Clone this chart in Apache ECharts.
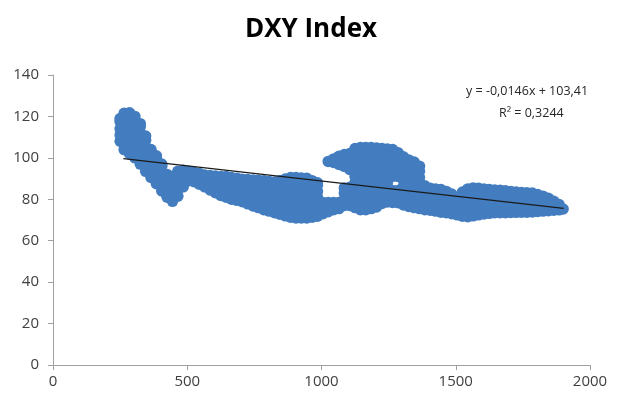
<!DOCTYPE html>
<html>
<head>
<meta charset="utf-8">
<script src="https://cdn.jsdelivr.net/npm/echarts@6/dist/echarts.min.js"></script>
<style>html,body{margin:0;padding:0;background:#fff}#c{width:622px;height:400px}</style>
</head>
<body>
<div id="c"></div>
<script>
// Values: [x, [y values at that x]]
const lobe = [
  [250,[108,111,114,117.5,119]],
  [265,[104,107,110,113,116,119,121.5]],
  [285,[102,105,108,111,114,117,120,121.8]],
  [305,[100,103,106,109,112,115,118,120]],
  [325,[97,100,103,106,109,112,115,116.5]],
  [345,[93.5,96.5,99.5,102.5,105.5,108.5,110.5]],
  [365,[90.5,93.5,96.5,99.5,102.5,104]],
  [385,[87.5,90.5,93.5,96.5,99.5,101]],
  [405,[84,87,90,93,96,97]],
  [425,[81,84,87,90,92]],
  [445,[79,82,85,88,91]]
];
const band = [
  [465,[81.5,84.5,87.5,90.5,93.5]],
  [485,[86,89,92,94]],
  [505,[89,92,93.5]],
  [525,[88.5,91.5,93]],
  [545,[87.3,90.3,92.5]],
  [565,[86,89,91.7]],
  [585,[84.5,87.5,90.5,91.5]],
  [605,[83.2,86.2,89.2,91.2]],
  [625,[81.8,84.8,87.8,91]],
  [645,[81,84,87,90,91]],
  [665,[80,83,86,89,90.5]],
  [685,[79.5,82.5,85.5,88.5,90.2]],
  [705,[78.8,81.8,84.8,87.8,89.7]],
  [725,[77.8,80.8,83.8,86.8,89.5]],
  [745,[76.8,79.8,82.8,85.8,89.3]],
  [765,[76,79,82,85,88,89.2]],
  [785,[75,78,81,84,87,89]],
  [805,[74.3,77.3,80.3,83.3,86.3,88.6]],
  [825,[73.5,76.5,79.5,82.5,85.5,88.3]],
  [845,[72.8,75.8,78.8,81.8,84.8,87.8,89]],
  [865,[72,75,78,81,84,87,89.8]],
  [885,[71.3,74.3,77.3,80.3,83.3,86.3,89.3,90.5]],
  [905,[71,74,77,80,83,86,89,90.5]],
  [925,[71,74,77,80,83,86,89,90.3]],
  [945,[71,74,77,80,83,86,89,90.2]],
  [965,[71.3,74.3,77.3,80.3,83.3,86.3,89]],
  [985,[71.8,74.8,77.8,80.8,83.8,86.8,88]]
];
const hump = [
  [1005,[73,76,78.5]],
  [1025,[74,77,78.5,98.3]],
  [1045,[75,78.5,97.8,99.5]],
  [1065,[75.5,78.5,96.8,99.8,100.8]],
  [1085,[77,80,83,85.5,95.9,98.9,101.6]],
  [1105,[77,80,83,85.8,94.4,97.4,100.4,102.1]],
  [1125,[76,79,82,85,88,91,94,97,100,103,104.5]],
  [1145,[75,78,81,84,87,90,93,96,99,102,105]],
  [1165,[75,78,81,84,87,90,93,96,99,102,105]],
  [1185,[75.5,78.5,81.5,84.5,87.5,90.5,93.5,96.5,99.5,102.5,105]],
  [1205,[76.3,79.3,82.3,85.3,88.3,91.3,94.3,97.3,100.3,103.3,104.7]],
  [1225,[78,81,84,87,90,93,96,99,102,104.5]],
  [1245,[78.7,81.7,84.7,87.7,90.7,93.7,96.7,99.7,102.7,104.3]],
  [1265,[78.5,81.5,84.3,91,93.5,96.5,99.5,102.5,104]],
  [1285,[78.3,81.3,84.3,91,93.3,96.3,99.3,102.5]],
  [1305,[77.3,80.3,83.3,86.3,89.3,92.3,95.3,98.3,100.5]],
  [1325,[76.5,79.5,82.5,85.5,88.5,91.5,94.5,97.5,99]],
  [1345,[76,79,82,85,88,91,94,97,98]],
  [1365,[75.5,78.5,81.5,84.5,87.5,90.5,93.5,96]]
];
const tail = [
  [1385,[75,78,81,84,86.5]],
  [1405,[74.7,77.7,80.7,83.7,85.3]],
  [1425,[74.3,77.3,80.3,83.3,85]],
  [1445,[73.8,76.8,79.8,82.8,84.7]],
  [1465,[73.5,76.5,79.5,82.5,83.8]],
  [1485,[73,76,79,82.5]],
  [1505,[72.5,75.5,78.5,79.5]],
  [1525,[71.8,74.8,77.8,80.8,83.5]],
  [1545,[71.6,74.6,77.6,80.6,83.6,85]],
  [1565,[72,75,78,81,84,85.5]],
  [1585,[72.5,75.5,78.5,81.5,84.5,85.3]],
  [1605,[72.9,75.9,78.9,81.9,85]],
  [1625,[73.2,76.2,79.2,82.2,84.7]],
  [1645,[73.5,76.5,79.5,82.5,84.5]],
  [1665,[73.5,76.5,79.5,82.5,84.4]],
  [1685,[73.5,76.5,79.5,82.5,84.1]],
  [1705,[73.6,76.6,79.6,82.6,83.8]],
  [1725,[73.7,76.7,79.7,82.7,83.5]],
  [1745,[73.8,76.8,79.8,83.3]],
  [1765,[73.8,76.8,79.8,83.1]],
  [1785,[73.9,76.9,79.9,83]],
  [1805,[74.1,77.1,80.1,82.3]],
  [1825,[74.3,77.3,80.3,81.5]],
  [1845,[74.5,77.5,80.5]],
  [1865,[74.7,77.7,79]],
  [1885,[74.9,77.5]],
  [1900,[75.3]]
];
const trendPoints = [[262, 99.6], [1902, 75.6]];
const trendLabel = 'y = -0,0146x + 103,41';
const r2Label = 'R² = 0,3244';
const xTicks = {min: 0, max: 2000, interval: 500};
const yTicks = {min: 0, max: 140, interval: 20};

const toPairs = cols => cols.flatMap(([x, ys]) => ys.map(y => [x, y]));
const points = [].concat(toPairs(lobe), toPairs(band), toPairs(hump), toPairs(tail));

const chart = echarts.init(document.getElementById('c'), null, {renderer: 'canvas'});
const axisLabel = {color: '#404040', fontSize: 15, fontFamily: 'Open Sans', formatter: v => String(v)};
chart.setOption({
  animation: false,
  title: {
    text: 'DXY Index', left: 'center', top: 12,
    textStyle: {fontSize: 26, fontWeight: 'bold', fontFamily: 'Open Sans', color: '#000'}
  },
  grid: {left: 53, right: 32, top: 75, bottom: 35},
  xAxis: {
    type: 'value', min: xTicks.min, max: xTicks.max, interval: xTicks.interval,
    axisLine: {show: true, lineStyle: {color: '#a0a0a0'}},
    axisTick: {show: true, length: 5, lineStyle: {color: '#a0a0a0'}},
    axisLabel: Object.assign({margin: 9}, axisLabel),
    splitLine: {show: false}
  },
  yAxis: {
    type: 'value', min: yTicks.min, max: yTicks.max, interval: yTicks.interval,
    axisLine: {show: true, lineStyle: {color: '#a0a0a0'}},
    axisTick: {show: true, length: 5, lineStyle: {color: '#a0a0a0'}},
    axisLabel: Object.assign({margin: 14}, axisLabel),
    splitLine: {show: false}
  },
  graphic: [
    {type: 'text', left: 466, top: 85, style: {text: trendLabel, fill: '#262626', font: '12.5px "Open Sans"'}},
    {type: 'text', left: 499, top: 107, style: {text: r2Label, fill: '#262626', font: '12.5px "Open Sans"'}}
  ],
  series: [
    {
      type: 'scatter', data: points, symbol: 'circle', symbolSize: 11.5,
      itemStyle: {color: '#437dc0', opacity: 1}, z: 2
    },
    {
      type: 'line', data: trendPoints, symbol: 'none',
      lineStyle: {color: '#1a1a1a', width: 1.3}, z: 5
    }
  ]
});
</script>
</body>
</html>
